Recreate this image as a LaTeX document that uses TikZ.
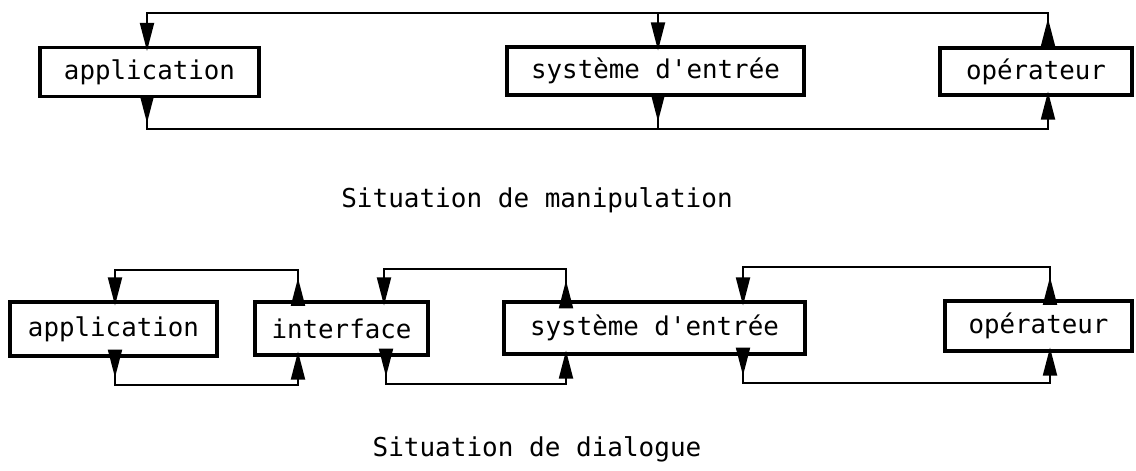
\documentclass[tikz,border=0pt]{standalone}
\usepackage{fontspec}
\setmonofont{DejaVu Sans Mono}
\usetikzlibrary{positioning,arrows.meta,decorations.markings}

\begin{document}
\begin{tikzpicture}[x=0.02cm,y=-0.02cm,
    box/.style={rectangle,draw,line width=1.8pt,inner sep=0pt,font=\ttfamily\fontsize{14.7}{17}\selectfont},
    title/.style={anchor=base,font=\ttfamily\fontsize{14.8}{17}\selectfont},
    wire/.style={line width=1.1pt},
    tipin/.style={-{Triangle[length=0.56cm,width=0.28cm]},shorten >=-0.1cm},
    tipout/.style={postaction={decorate},decoration={markings,mark=at position #1 with {\arrow{Triangle[length=0.56cm,width=0.28cm]}}}},
    tipout/.default=0.5cm]

\useasboundingbox (0,0) rectangle (1136,470);

% Situation de manipulation
\node[box,minimum width=4.38cm,minimum height=0.98cm] (app1) at (149.5,72) {application};
\node[box,minimum width=5.94cm,minimum height=0.96cm] (sys1) at (655.5,71) {système d'entrée};
\node[box,minimum width=3.84cm,minimum height=0.94cm] (op1) at (1036,71.5) {opérateur};
\node[title] (cap1) at (537,207) {Situation de manipulation};

\coordinate (ta) at (147,13);
\coordinate (ts) at (658,13);
\coordinate (tp) at (1048,13);
\coordinate (ba) at (147,129);
\coordinate (bs) at (658,129);
\coordinate (bp) at (1048,129);

\draw[wire,tipout=0.56cm,tipin] (tp |- op1.north) -- (tp) -- (ta) -- (ta |- app1.north);
\draw[wire,tipin] (ts) -- (ts |- sys1.north);
\draw[wire,tipout,tipin] (ba |- app1.south) -- (ba) -- (bp) -- (bp |- op1.south);
\draw[wire,tipout] (bs |- sys1.south) -- (bs);

% Situation de dialogue
\node[box,minimum width=4.14cm,minimum height=1.08cm] (app2) at (113.5,329) {application};
\node[box,minimum width=3.46cm,minimum height=1.06cm] (int2) at (341.5,328.5) {interface};
\node[box,minimum width=6.02cm,minimum height=1.04cm] (sys2) at (654.5,328) {système d'entrée};
\node[box,minimum width=3.74cm,minimum height=1.0cm] (op2) at (1038.5,326) {opérateur};
\node[title] (cap2) at (537,456) {Situation de dialogue};

\coordinate (ua) at (115,270);
\coordinate (ui) at (298,270);
\coordinate (uj) at (384,269);
\coordinate (us) at (566,269);
\coordinate (ut) at (743,267);
\coordinate (uo) at (1050,267);
\coordinate (da) at (115,385);
\coordinate (di) at (298,385);
\coordinate (dj) at (386,384);
\coordinate (ds) at (566,384);
\coordinate (dt) at (743,383);
\coordinate (dp) at (1050,383);

\draw[wire,tipout=0.45cm,tipin] (ui |- int2.north) -- (ui) -- (ua) -- (ua |- app2.north);
\draw[wire,tipout=0.4cm,tipin] (da |- app2.south) -- (da) -- (di) -- (di |- int2.south);
\draw[wire,tipout=0.4cm,tipin] (us |- sys2.north) -- (us) -- (uj) -- (uj |- int2.north);
\draw[wire,tipout=0.4cm,tipin] (dj |- int2.south) -- (dj) -- (ds) -- (ds |- sys2.south);
\draw[wire,tipout=0.45cm,tipin] (uo |- op2.north) -- (uo) -- (ut) -- (ut |- sys2.north);
\draw[wire,tipout=0.4cm,tipin] (dt |- sys2.south) -- (dt) -- (dp) -- (dp |- op2.south);

\end{tikzpicture}
\end{document}
